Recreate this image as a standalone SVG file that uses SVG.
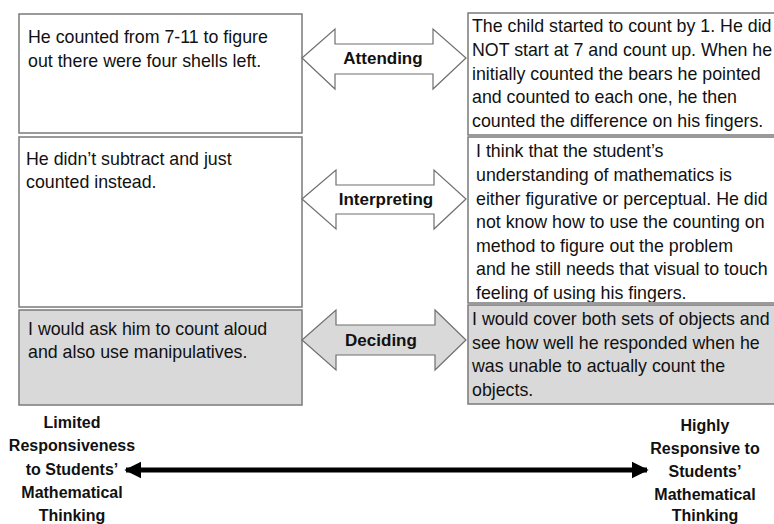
<svg xmlns="http://www.w3.org/2000/svg" width="774" height="524" viewBox="0 0 774 524">
<style>
.box{fill:#fff;stroke:#7a7a7a;stroke-width:1.5}
.gbox{fill:#d9d9d9;stroke:#7a7a7a;stroke-width:1.5}
.arr{fill:#fff;stroke:#6f6f6f;stroke-width:1.2}
.garr{fill:#d9d9d9;stroke:#6f6f6f;stroke-width:1.2}
.t{font-family:"Liberation Sans",Arial,sans-serif;font-size:17.8px;fill:#111}
.lb{font-family:"Liberation Sans",Arial,sans-serif;font-size:17px;font-weight:bold;fill:#111}
.b{font-family:"Liberation Sans",Arial,sans-serif;font-size:16px;font-weight:bold;fill:#111}
</style>
<defs>
<clipPath id="c2"><rect x="469" y="138" width="305" height="164"/></clipPath>
<marker id="ah" viewBox="0 0 10 10" refX="9" refY="5" markerWidth="3.4" markerHeight="3.6" orient="auto-start-reverse"><path d="M0,0 L10,5 L0,10 Z" fill="#000"/></marker>
</defs>
<rect width="774" height="524" fill="#fff"/>
<g id="L1"><rect class="box" x="19" y="14" width="283" height="119"/>
<text class="t" x="28" y="43">He counted from 7-11 to figure</text>
<text class="t" x="28" y="67">out there were four shells left.</text></g>
<g id="L2"><rect class="box" x="19" y="137" width="283" height="170"/>
<text class="t" x="26" y="165">He didn’t subtract and just</text>
<text class="t" x="26" y="188">counted instead.</text></g>
<g id="L3"><rect class="gbox" x="19" y="310" width="283" height="95"/>
<text class="t" x="28" y="335">I would ask him to count aloud</text>
<text class="t" x="28" y="358">and also use manipulatives.</text></g>
<g id="R1"><rect class="box" x="468" y="13" width="310" height="122"/>
<text class="t" x="472" y="32">The child started to count by 1. He did</text>
<text class="t" x="472" y="56">NOT start at 7 and count up. When he</text>
<text class="t" x="472" y="80">initially counted the bears he pointed</text>
<text class="t" x="472" y="103">and counted to each one, he then</text>
<text class="t" x="472" y="127">counted the difference on his fingers.</text></g>
<g id="R2"><rect class="box" x="468" y="137" width="310" height="166"/>
<g clip-path="url(#c2)">
<text class="t" x="476" y="157">I think that the student’s</text>
<text class="t" x="476" y="181">understanding of mathematics is</text>
<text class="t" x="476" y="205">either figurative or perceptual. He did</text>
<text class="t" x="476" y="228">not know how to use the counting on</text>
<text class="t" x="476" y="252">method to figure out the problem</text>
<text class="t" x="476" y="275">and he still needs that visual to touch</text>
<text class="t" x="476" y="299">feeling of using his fingers.</text></g></g>
<g id="R3"><rect class="gbox" x="468" y="305" width="310" height="99"/>
<text class="t" x="472" y="325">I would cover both sets of objects and</text>
<text class="t" x="472" y="349">see how well he responded when he</text>
<text class="t" x="472" y="372">was unable to actually count the</text>
<text class="t" x="472" y="396">objects.</text></g>
<g id="connectors">
<g id="attending"><polygon class="arr" points="302,58 335,29 335,44 433,44 433,29 466,58 433,89 433,74 335,74 335,89"/>
<text class="lb" x="383" y="64" text-anchor="middle">Attending</text></g>
<g id="interpreting"><polygon class="arr" points="302,199 336,170 336,185 434,185 434,170 466,199 434,229 434,214 336,214 336,229"/>
<text class="lb" x="386" y="205" text-anchor="middle">Interpreting</text></g>
<g id="deciding"><polygon class="garr" points="302,340 336,310 336,325 435,325 435,310 466,340 435,370 435,355 336,355 336,370"/>
<text class="lb" x="381" y="346" text-anchor="middle">Deciding</text></g>
<line x1="126" y1="470" x2="647" y2="470" stroke="#000" stroke-width="5" marker-start="url(#ah)" marker-end="url(#ah)"/>
</g>
<g id="scaleL">
<text class="b" x="72" y="428" text-anchor="middle">Limited</text>
<text class="b" x="72" y="451" text-anchor="middle">Responsiveness</text>
<text class="b" x="72" y="475" text-anchor="middle">to Students’</text>
<text class="b" x="72" y="498" text-anchor="middle">Mathematical</text>
<text class="b" x="72" y="521" text-anchor="middle">Thinking</text></g>
<g id="scaleR">
<text class="b" x="705" y="431" text-anchor="middle">Highly</text>
<text class="b" x="705" y="454" text-anchor="middle">Responsive to</text>
<text class="b" x="705" y="477" text-anchor="middle">Students’</text>
<text class="b" x="705" y="500" text-anchor="middle">Mathematical</text>
<text class="b" x="705" y="521" text-anchor="middle">Thinking</text></g>
</svg>
